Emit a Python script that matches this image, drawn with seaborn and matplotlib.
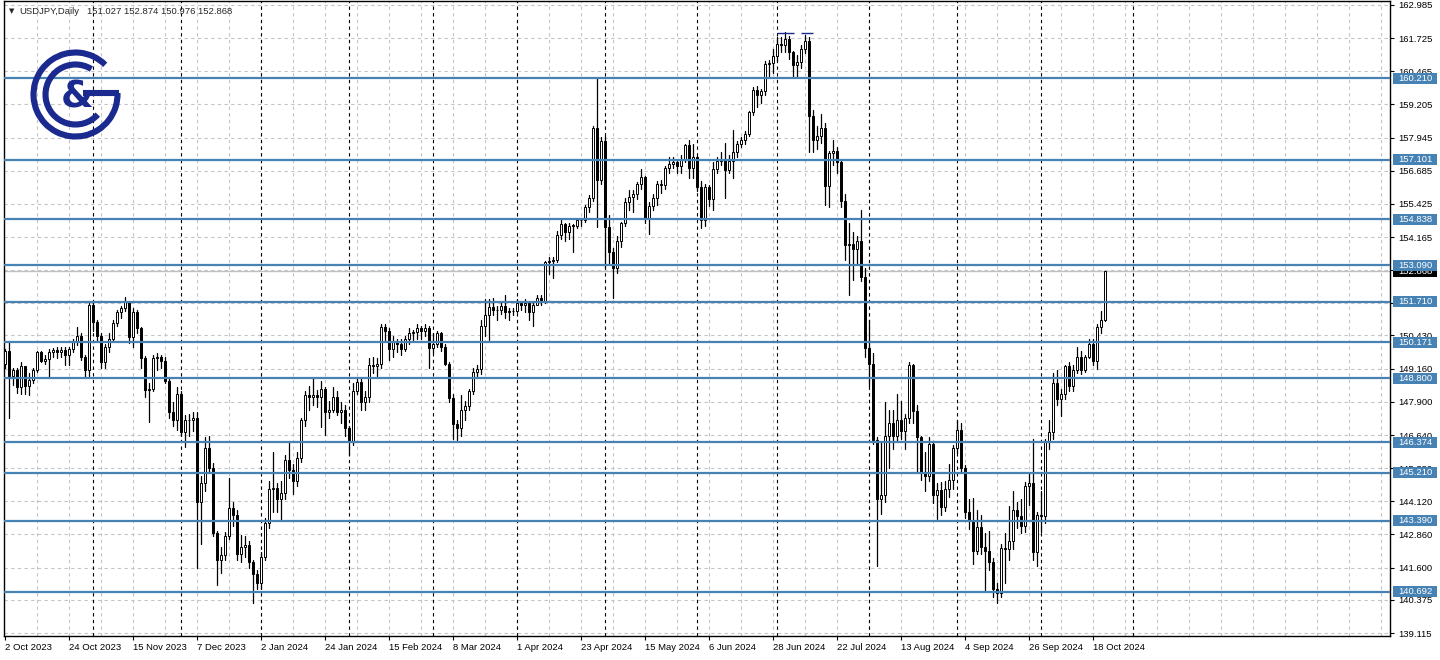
import numpy as np
import pandas as pd
import matplotlib
matplotlib.use("Agg")
import matplotlib.pyplot as plt
import matplotlib.transforms as mtransforms
from matplotlib.patches import Arc, Rectangle
import seaborn as sns

# daily bars of the feed: no candle on Dec 25 and Jan 1
days = pd.bdate_range("2023-10-02", "2024-10-23")
days = days[~(((days.month == 12) & (days.day == 25)) | ((days.month == 1) & (days.day == 1)))]

first_open = 149.35

closes = [
    # Oct 2023
    149.83, 148.90, 149.10, 148.47, 149.25, 148.50, 148.73, 149.10, 149.80, 149.45,
    149.52, 149.80, 149.88, 149.80, 149.88, 149.70, 149.90, 150.20, 150.40, 149.60,
    149.10, 151.60,
    # Nov
    150.95, 150.40, 149.40, 150.00, 150.30, 150.90, 151.30, 151.45, 151.70, 150.37,
    151.30, 150.70, 149.55, 148.35, 148.40, 149.55, 149.60, 149.45, 148.70, 147.50,
    147.20, 148.20,
    # Dec
    146.75, 147.20, 147.22, 147.30, 144.10, 144.80, 146.15, 145.40, 142.90, 141.90,
    142.07, 142.80, 143.85, 143.60, 142.10, 142.40, 142.45, 141.80, 141.35, 141.00,
    # Jan 2024
    142.00, 143.30, 144.60, 144.62, 144.20, 144.45, 145.70, 145.30, 144.90, 145.75,
    147.20, 148.15, 148.10, 148.15, 148.10, 148.40, 147.50, 147.60, 148.10, 147.50,
    147.60, 146.90,
    # Feb
    146.40, 148.30, 148.65, 147.90, 148.10, 149.30, 149.28, 149.35, 150.75, 150.60,
    149.90, 150.20, 150.10, 149.90, 150.30, 150.50, 150.55, 150.70, 150.60, 150.70,
    149.95,
    # Mar
    150.10, 150.50, 150.00, 149.35, 148.05, 147.05, 146.90, 147.60, 147.75, 148.30,
    149.05, 149.15, 150.80, 151.20, 151.50, 151.40, 151.40, 151.55, 151.30, 151.35,
    151.35,
    # Apr
    151.65, 151.60, 151.65, 151.30, 151.60, 151.85, 151.75, 153.20, 153.25, 153.30,
    154.25, 154.65, 154.35, 154.60, 154.60, 154.80, 154.83, 155.30, 155.65, 158.30,
    156.35, 157.80,
    # May
    154.55, 153.60, 153.00, 154.00, 154.70, 155.50, 155.68, 155.80, 156.20, 156.45,
    154.85, 155.35, 155.65, 156.20, 156.15, 156.80, 156.95, 157.00, 156.85, 157.15,
    157.65, 156.80, 157.20,
    # Jun
    156.05, 154.80, 156.05, 155.60, 156.75, 157.05, 157.15, 156.70, 157.05, 157.40,
    157.70, 157.85, 158.10, 158.90, 159.75, 159.55, 159.70, 160.75, 160.78, 161.05,
    # Jul
    161.50, 161.45, 161.70, 161.20, 160.70, 160.80, 161.30, 161.60, 158.75, 157.85,
    158.00, 158.30, 156.10, 157.35, 157.45, 157.00, 155.55, 153.85, 153.90, 153.70,
    154.00, 152.65, 149.95,
    # Aug
    149.35, 146.45, 144.20, 144.35, 146.60, 147.10, 146.60, 147.20, 146.80, 147.30,
    149.30, 147.55, 146.55, 145.20, 145.10, 146.30, 144.35, 144.55, 143.90, 144.60,
    144.95, 146.15,
    # Sep
    146.85, 145.40, 143.70, 143.40, 142.25, 143.15, 142.40, 142.25, 141.80, 140.80,
    140.65, 142.35, 142.30, 142.60, 143.80, 143.55, 143.20, 144.70, 144.80, 142.20,
    143.60,
    # Oct
    143.55, 146.40, 146.75, 148.60, 148.00, 148.20, 149.25, 148.50, 149.10, 149.60,
    149.10, 149.60, 150.10, 149.45, 150.75, 151.03, 152.868,
]

highs = [
    149.92, 150.17, 149.20, 149.20, 149.40, 149.25, 149.00, 149.20, 149.83, 149.85,
    149.70, 149.90, 149.95, 150.00, 150.00, 149.97, 150.00, 150.30, 150.75, 150.50,
    149.70, 151.73,
    151.72, 151.00, 150.50, 150.10, 150.50, 151.00, 151.40, 151.55, 151.90, 151.75,
    151.45, 151.40, 150.75, 149.65, 148.60, 149.70, 149.75, 149.70, 149.60, 148.80,
    147.90, 148.45,
    148.30, 147.40, 147.45, 147.50, 147.50, 145.10, 146.55, 146.60, 145.58, 143.00,
    142.40, 142.95, 145.00, 144.10, 143.80, 142.85, 142.80, 142.60, 141.90, 141.50,
    142.20, 143.50, 144.90, 146.00, 144.80, 144.90, 145.90, 146.40, 145.55, 146.00,
    147.30, 148.30, 148.50, 148.80, 148.35, 148.70, 148.45, 147.95, 148.45, 148.30,
    147.90, 147.80,
    147.00, 148.60, 148.85, 148.80, 148.30, 149.55, 149.60, 149.55, 150.85, 150.85,
    150.70, 150.40, 150.30, 150.30, 150.40, 150.70, 150.65, 150.85, 150.80, 150.85,
    150.80,
    150.50, 150.60, 150.55, 150.10, 149.40, 148.20, 147.20, 148.15, 147.95, 148.40,
    149.20, 149.30, 151.00, 151.80, 151.80, 151.85, 151.55, 151.70, 151.95, 151.45,
    151.45,
    151.80, 151.75, 151.80, 151.70, 151.75, 151.95, 151.95, 153.25, 153.40, 153.40,
    154.40, 154.80, 154.70, 154.70, 154.65, 154.85, 154.90, 155.40, 155.75, 158.40,
    160.20, 157.95,
    158.00, 155.00, 153.75, 154.20, 154.75, 155.65, 155.95, 155.95, 156.25, 156.75,
    156.50, 155.50, 155.80, 156.30, 156.35, 156.85, 157.20, 157.20, 157.10, 157.30,
    157.70, 157.85, 157.70,
    157.25, 156.30, 156.20, 156.15, 157.00, 157.20, 157.40, 157.75, 157.30, 158.25,
    157.80, 157.95, 158.20, 158.95, 159.85, 159.90, 159.80, 160.85, 160.90, 161.30,
    161.75, 161.75, 161.95, 161.80, 161.25, 161.10, 161.45, 161.85, 161.75, 159.00,
    158.40, 158.85, 158.50, 157.45, 157.85, 157.60, 157.10, 155.80, 154.70, 154.35,
    154.20, 155.20, 153.00,
    151.00, 149.75, 146.55, 146.40, 147.90, 147.60, 147.60, 148.20, 147.95, 147.45,
    149.40, 149.35, 147.80, 146.60, 146.00, 146.55, 146.40, 144.80, 144.85, 144.90,
    145.55, 146.25,
    147.20, 147.10, 145.50, 144.20, 144.25, 143.80, 143.60, 142.90, 143.00, 141.95,
    141.00, 142.50, 142.90, 143.95, 144.50, 144.10, 144.20, 144.85, 145.20, 146.50,
    143.70,
    144.50, 146.50, 147.20, 149.00, 149.10, 148.40, 149.30, 149.40, 149.30, 150.00,
    149.85, 149.70, 150.30, 150.30, 150.85, 151.35, 152.874,
]

lows = [
    149.20, 147.29, 148.55, 148.24, 148.20, 148.20, 148.15, 148.60, 149.05, 149.40,
    149.35, 148.80, 149.60, 149.55, 149.60, 149.30, 149.30, 149.80, 150.05, 149.50,
    148.80, 148.90,
    150.60, 150.20, 149.20, 149.20, 149.80, 150.20, 150.80, 151.10, 151.35, 150.14,
    150.00, 150.50, 149.20, 148.10, 147.15, 148.30, 149.10, 149.20, 148.60, 147.30,
    147.00, 146.85,
    146.60, 146.20, 146.60, 146.80, 141.60, 142.50, 144.50, 145.20, 142.80, 140.95,
    141.40, 141.90, 142.70, 143.20, 141.90, 141.80, 142.00, 141.60, 140.25, 140.80,
    140.80, 141.90, 143.10, 143.70, 143.70, 143.40, 144.20, 145.00, 144.40, 144.70,
    145.60, 147.00, 147.60, 147.80, 147.70, 146.95, 146.65, 147.30, 147.50, 147.40,
    147.10, 146.60,
    145.90, 146.25, 148.20, 147.60, 147.60, 147.90, 149.00, 148.90, 149.20, 150.25,
    149.50, 149.60, 149.80, 149.70, 149.85, 150.10, 150.25, 150.30, 150.30, 150.40,
    149.20,
    149.75, 150.00, 149.85, 149.30, 147.90, 146.50, 146.45, 146.60, 147.20, 147.60,
    148.20, 148.90, 148.95, 150.40, 150.25, 151.20, 151.00, 151.25, 151.10, 151.00,
    151.20,
    151.30, 151.40, 151.30, 151.00, 150.80, 151.60, 151.60, 151.65, 152.75, 152.60,
    153.20, 154.10, 154.00, 154.10, 153.60, 154.50, 154.60, 154.75, 155.10, 155.55,
    154.55, 156.20,
    153.00, 153.15, 151.85, 152.80, 153.80, 154.60, 155.20, 155.10, 155.60, 156.00,
    154.70, 154.30, 155.20, 155.40, 155.85, 156.00, 156.60, 156.80, 156.60, 156.60,
    157.00, 156.40, 156.40,
    155.90, 154.50, 154.60, 155.35, 155.20, 156.60, 156.90, 155.65, 156.60, 156.40,
    157.20, 157.60, 157.70, 158.00, 158.80, 159.10, 159.25, 159.55, 160.30, 160.40,
    160.85, 161.20, 161.20, 160.95, 160.20, 160.25, 160.60, 161.15, 157.40, 157.40,
    157.50, 157.75, 155.40, 155.30, 156.90, 156.60, 155.30, 153.30, 151.95, 152.55,
    153.10, 152.50, 149.60,
    148.50, 146.30, 141.65, 143.65, 144.10, 145.40, 146.10, 146.40, 146.50, 146.10,
    147.10, 147.10, 145.20, 144.95, 144.50, 144.90, 144.05, 143.45, 143.60, 143.75,
    144.30, 144.60,
    145.95, 145.20, 143.50, 143.05, 141.75, 142.10, 142.10, 140.70, 141.50, 140.50,
    140.25, 140.50, 141.00, 141.90, 142.30, 143.10, 142.90, 142.95, 144.00, 141.90,
    141.65,
    142.95, 143.30, 146.10, 146.50, 147.80, 147.35, 148.00, 148.30, 148.30, 149.00,
    148.95, 149.05, 149.55, 149.30, 149.15, 150.50, 150.976,
]

# horizontal levels drawn on the chart
levels = [160.210, 157.101, 154.838, 153.090, 151.710, 150.171,
          148.800, 146.374, 145.210, 143.390, 140.692]
price_ticks = [162.985, 161.725, 160.465, 159.205, 157.945, 156.685, 155.425,
               154.165, 152.905, 151.645, 150.430, 149.160, 147.900, 146.640,
               145.380, 144.120, 142.860, 141.600, 140.375, 139.115]
last_price = 152.868
title_values = ["151.027", "152.874", "150.976", "152.868"]
# short marks over the July top
top_mark_price = 161.92
top_mark_spans = [(193.0, 197.2), (199.0, 202.0)]

W, H = 1440, 660
level_color = "#4682b4"
navy = "#1b2a8f"

sns.set_theme(style="white")
plt.rcParams["font.family"] = ["Liberation Sans", "DejaVu Sans"]

opens = [first_open] + closes[:-1]
candles = pd.DataFrame({"bar": np.arange(len(closes)), "open": opens,
                        "high": highs, "low": lows, "close": closes})

fig = plt.figure(figsize=(W / 100, H / 100), dpi=100)
ax = fig.add_axes([4 / W, (H - 636) / H, 1386 / W, 635 / H])
ax.set_facecolor("white")

# wicks: one line per bar from low to high
wicks = pd.concat([
    candles[["bar", "low"]].rename(columns={"low": "price"}),
    candles[["bar", "high"]].rename(columns={"high": "price"}),
])
sns.lineplot(data=wicks, x="bar", y="price", units="bar", estimator=None,
             sort=False, color="black", linewidth=0.9, ax=ax, legend=False, zorder=2)

up = candles[candles.close >= candles.open]
down = candles[candles.close < candles.open]
ax.bar(up.bar, (up.close - up.open).clip(lower=0.01), bottom=up.open, width=0.62,
       color="white", edgecolor="black", linewidth=0.7, zorder=3)
ax.bar(down.bar, down.open - down.close, bottom=down.close, width=0.62,
       color="black", edgecolor="black", linewidth=0.7, zorder=3)

ax.set_xlim(-0.25, 346.25)
ax.set_ylim(139.002, 163.137)

# grid: gray dotted every 8 bars and at the price ticks, black at month starts
for x in np.arange(8, 347, 8):
    ax.axvline(x, color="#c4c4c4", lw=0.8, ls=(0, (3, 3)), zorder=1)
for t in price_ticks:
    ax.axhline(t, color="#c4c4c4", lw=0.8, ls=(0, (3, 3)), zorder=1)
ext_days = days.append(pd.bdate_range(days[-1] + pd.Timedelta(days=1), periods=8))
month_start = [i for i in range(1, len(ext_days)) if ext_days[i].month != ext_days[i - 1].month]
for i in month_start:
    ax.axvline(i, color="black", lw=0.8, ls=(0, (3, 3)), zorder=1)

ax.axhline(last_price, color="#c0c0c0", lw=1.0, zorder=1.5)
for lv in levels:
    ax.axhline(lv, color=level_color, lw=1.6, zorder=4)
for x0, x1 in top_mark_spans:
    ax.hlines(top_mark_price, x0, x1, color=navy, lw=1.0, zorder=4)

# axes and ticks
for s in ax.spines.values():
    s.set_color("black")
    s.set_linewidth(1.0)
ax.yaxis.tick_right()
ax.set_yticks(price_ticks)
ax.set_yticklabels([f"{t:.3f}" for t in price_ticks])
label_bars = list(range(0, len(days), 16))
ax.set_xticks(label_bars)
ax.set_xticklabels([f"{days[i].day} {days[i].strftime('%b %Y')}" for i in label_bars], ha="left")
ax.tick_params(axis="y", right=True, length=3, width=0.8, pad=3, labelsize=6.8, colors="black")
ax.tick_params(axis="x", bottom=True, length=3, width=0.8, pad=2, labelsize=6.8, colors="black")
ax.set_xlabel("")
ax.set_ylabel("")

# price boxes on the right scale
trans = mtransforms.blended_transform_factory(ax.transAxes, ax.transData)
box_h = 11 / (635 / (163.137 - 139.002))
bx0, bw = 1.0022, 0.0317


def price_box(value, color, z):
    ax.add_patch(Rectangle((bx0, value - box_h / 2), bw, box_h, transform=trans,
                           facecolor=color, edgecolor="none", clip_on=False, zorder=z))
    ax.text(bx0 + bw / 2, value, f"{value:.3f}", transform=trans, ha="center",
            va="center", color="white", fontsize=6.8, clip_on=False, zorder=z + 0.1)


price_box(last_price, "black", 10)
for lv in levels:
    price_box(lv, level_color, 11)

# title line
fig.text(9 / W, 1 - 11 / H, "\u25bc", fontsize=5, va="center", ha="left",
         family=["DejaVu Sans"])
fig.text(19 / W, 1 - 11 / H, "USDJPY,Daily", fontsize=6.8, va="center", ha="left")
fig.text(87 / W, 1 - 11 / H, " ".join(title_values), fontsize=6.8, va="center", ha="left")

# logo
logo = fig.add_axes([25 / W, 1 - 145 / H, 100 / W, 100 / H])
logo.set_xlim(0, 100)
logo.set_ylim(0, 100)
logo.axis("off")
logo.patch.set_alpha(0)
logo.add_patch(Arc((50.5, 50.5), 84, 84, theta1=45, theta2=362, lw=4.4, color=navy))
logo.plot([58, 94], [52, 52], color=navy, lw=4.4, solid_capstyle="butt")
logo.add_patch(Arc((50.5, 50.5), 60, 60, theta1=58, theta2=318, lw=4.4, color=navy))
logo.text(52, 47, "&", ha="center", va="center", fontsize=27, fontweight="bold",
          color=navy, family=["DejaVu Sans"])

fig.savefig("out.png", dpi=100)
